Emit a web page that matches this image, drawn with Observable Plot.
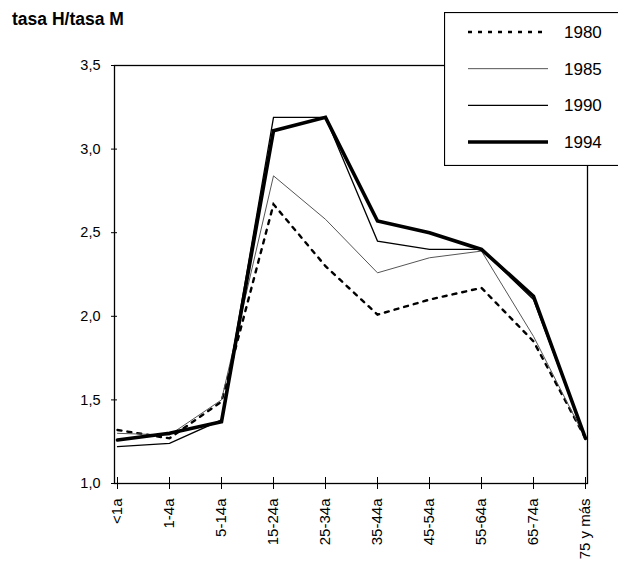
<!DOCTYPE html>
<html>
<head>
<meta charset="utf-8">
<script src="https://cdn.jsdelivr.net/npm/d3@7"></script>
<script src="https://cdn.jsdelivr.net/npm/@observablehq/plot@0.6"></script>
<style>
  html, body { margin: 0; padding: 0; background: #fff; }
  #wrap { position: relative; width: 618px; height: 569px; font-family: "Liberation Sans", Arial, sans-serif; }
  #title { position: absolute; left: 12px; top: 9px; font-weight: bold; font-size: 17.5px; color: #000; }
  #legend { position: absolute; left: 444px; top: 12px; }
</style>
</head>
<body>
<div id="wrap">
  <div id="chart"></div>
  <div id="title">tasa H/tasa M</div>
  <div id="legend"></div>
</div>
<script>
const ageGroups = ["<1a", "1-4a", "5-14a", "15-24a", "25-34a", "35-44a", "45-54a", "55-64a", "65-74a", "75 y más"];
const years = ["1980", "1985", "1990", "1994"];
const v1980 = [1.32, 1.27, 1.49, 2.67, 2.30, 2.01, 2.10, 2.17, 1.85, 1.27];
const v1985 = [1.30, 1.29, 1.50, 2.84, 2.58, 2.26, 2.35, 2.39, 1.88, 1.27];
const v1990 = [1.22, 1.24, 1.38, 3.19, 3.19, 2.45, 2.40, 2.40, 2.10, 1.27];
const v1994 = [1.26, 1.30, 1.37, 3.11, 3.19, 2.57, 2.50, 2.40, 2.12, 1.27];
const yTicks = [1.0, 1.5, 2.0, 2.5, 3.0, 3.5];

const seriesValues = {"1980": v1980, "1985": v1985, "1990": v1990, "1994": v1994};
const styles = {
  "1980": {stroke: "#000", strokeWidth: 2.4, strokeDasharray: "4,6"},
  "1985": {stroke: "#555", strokeWidth: 1},
  "1990": {stroke: "#000", strokeWidth: 1.3},
  "1994": {stroke: "#000", strokeWidth: 3.6}
};
const rows = years.flatMap(yr => ageGroups.map((g, i) => ({year: yr, group: g, value: seriesValues[yr][i]})));
const fmt = d => d.toFixed(1).replace(".", ",");

const chart = Plot.plot({
  width: 618,
  height: 569,
  marginTop: 65,
  marginBottom: 86,
  marginLeft: 114,
  marginRight: 31,
  style: {fontFamily: "'Liberation Sans', Arial, sans-serif", fontSize: "14.5px", color: "#000", background: "#fff"},
  x: {type: "point", domain: ageGroups, padding: 0},
  y: {domain: [1, 3.5]},
  marks: [
    Plot.frame({stroke: "#000", strokeWidth: 1.3}),
    Plot.axisY({ticks: yTicks, tickFormat: fmt, tickSize: 6, dx: 3, tickPadding: 11, label: null, fontSize: 14.5}),
    Plot.axisX({tickSize: 12, dy: -6, tickPadding: 9, tickRotate: -90, label: null, fontSize: 15}),
    ...years.map(yr => Plot.line(rows.filter(d => d.year === yr), {
      x: "group", y: "value", ...styles[yr], strokeLinejoin: "miter", strokeMiterlimit: 4
    }))
  ]
});
document.getElementById("chart").appendChild(chart);

// Legend box
const lw = 176, lh = 154;
const legend = d3.select("#legend").append("svg")
  .attr("width", lw).attr("height", lh)
  .style("display", "block");
legend.append("rect").attr("x", 0.5).attr("y", 0.5).attr("width", lw - 1).attr("height", lh - 1)
  .attr("fill", "#fff").attr("stroke", "#000").attr("stroke-width", 1.2);
const ly = d3.scalePoint().domain(years).range([20, 130]);
years.forEach(yr => {
  const s = styles[yr];
  legend.append("line")
    .attr("x1", 24).attr("x2", 104).attr("y1", ly(yr)).attr("y2", ly(yr))
    .attr("stroke", s.stroke).attr("stroke-width", s.strokeWidth)
    .attr("stroke-dasharray", s.strokeDasharray || null);
  legend.append("text")
    .attr("x", 120).attr("y", ly(yr)).attr("dy", "0.35em")
    .attr("font-family", "'Liberation Sans', Arial, sans-serif")
    .attr("font-size", 17).text(yr);
});
</script>
</body>
</html>
